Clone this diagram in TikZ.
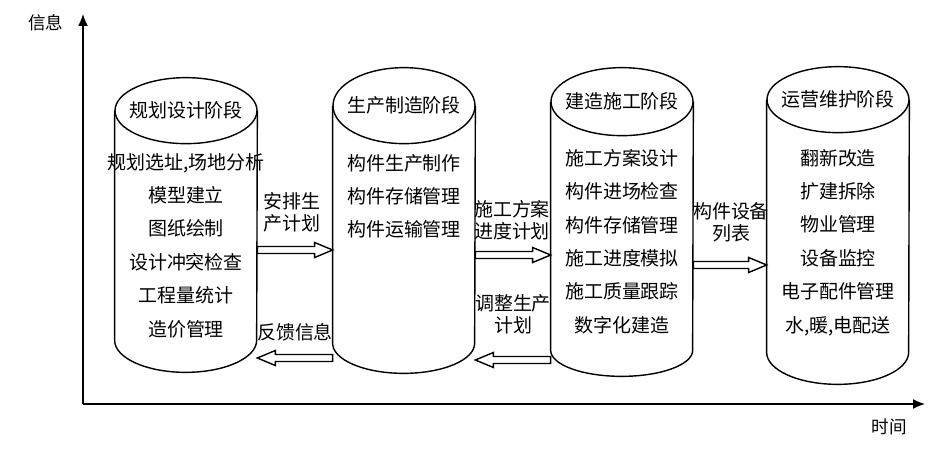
\documentclass[tikz,border=0pt]{standalone}
\usepackage{fontspec}
\setmainfont{Noto Sans CJK SC}
\usetikzlibrary{arrows.meta, positioning, calc}

\begin{document}
\begin{tikzpicture}[
  every node/.style={font=\fontsize{10.8}{19}\selectfont, inner sep=0pt},
  stagebody/.style={rectangle, minimum width=2.84cm, inner sep=0pt},
  cyl/.style={line width=0.8pt},
  items/.style={align=center, font=\fontsize{10.8}{19}\selectfont},
  lbl/.style={align=center, font=\fontsize{10.8}{12.5}\selectfont},
  axlbl/.style={font=\fontsize{10}{12}\selectfont},
  axis/.style={line width=0.8pt, -{Latex[length=0.24cm, width=0.2cm]}},
  blockarr/.style={draw, line width=0.8pt, fill=white, to path={
      let \p1=(\tikztostart), \p2=(\tikztotarget),
          \p3=($(\tikztotarget)!0.36cm!(\tikztostart)$) in
      (\x1,\y1+0.07cm) -- (\x3,\y3+0.07cm) -- (\x3,\y3+0.15cm) -- (\x2,\y2)
      -- (\x3,\y3-0.15cm) -- (\x3,\y3-0.07cm) -- (\x1,\y1-0.07cm) -- cycle}},
]
\useasboundingbox (0,0) rectangle (18.84,9);

% axes
\coordinate (o) at (1.66,0.92);
\coordinate (ytop) at (1.66,8.72);
\coordinate (xend) at (18.5,0.92);
\draw[axis] (o) -- (ytop);
\draw[axis] (o) -- (xend);
\node[axlbl] (yl) at (0.92,8.54) {信息};
\node[axlbl] (xl) at (17.78,0.46) {时间};

% stages
\foreach \n/\x/\t/\rt/\b/\rb in {c1/3.72/6.78/0.66/2.2/0.64,
                                 c2/8.08/6.88/0.76/2.14/0.6,
                                 c3/12.44/6.96/0.68/2.0/0.52,
                                 c4/16.76/7.0/0.66/1.96/0.64}{
  \node[stagebody, minimum height={(\t-\b)*1cm}] (\n) at (\x,{(\t+\b)/2}) {};
  \draw[cyl] (\n.north west) -- (\n.south west)
    arc[start angle=180, end angle=360, x radius=1.42cm, y radius=\rb cm]
    -- (\n.north east);
  \draw[cyl] (\n.north) ellipse[x radius=1.42cm, y radius=\rt cm];
}

\node (t1) at (c1.north) {规划设计阶段};
\node (t2) at (c2.north) {生产制造阶段};
\node (t3) at (c3.north) {建造施工阶段};
\node (t4) at (c4.north) {运营维护阶段};

\node[items, below=0.66cm of t1] (l1)
  {规划选址,场地分析\\模型建立\\图纸绘制\\设计冲突检查\\工程量统计\\造价管理};
\node[items, below=0.78cm of t2] (l2)
  {构件生产制作\\构件存储管理\\构件运输管理};
\node[items, below=0.76cm of t3] (l3)
  {施工方案设计\\构件进场检查\\构件存储管理\\施工进度模拟\\施工质量跟踪\\数字化建造};
\node[items, below=0.8cm of t4] (l4)
  {翻新改造\\扩建拆除\\物业管理\\设备监控\\电子配件管理\\水,暖,电配送};

% flows between stages
\node[lbl] (p12) at (5.84,4.76) {安排生\\产计划};
\node[lbl] (p21) at (5.9,2.36) {反馈信息};
\node[lbl] (p23) at (10.24,4.6) {施工方案\\进度计划};
\node[lbl] (p32) at (10.26,2.72) {调整生产\\计划};
\node[lbl] (p34) at (14.62,4.56) {构件设备\\列表};

\draw[blockarr] (c1.east |- 0,4.0) to (c2.west |- 0,4.0);
\draw[blockarr] (c2.west |- 0,1.84) to (c1.east |- 0,1.84);
\draw[blockarr] (c2.east |- 0,3.9) to (c3.west |- 0,3.9);
\draw[blockarr] (c3.west |- 0,1.8) to (c2.east |- 0,1.8);
\draw[blockarr] (c3.east |- 0,3.7) to (c4.west |- 0,3.7);

\end{tikzpicture}
\end{document}
